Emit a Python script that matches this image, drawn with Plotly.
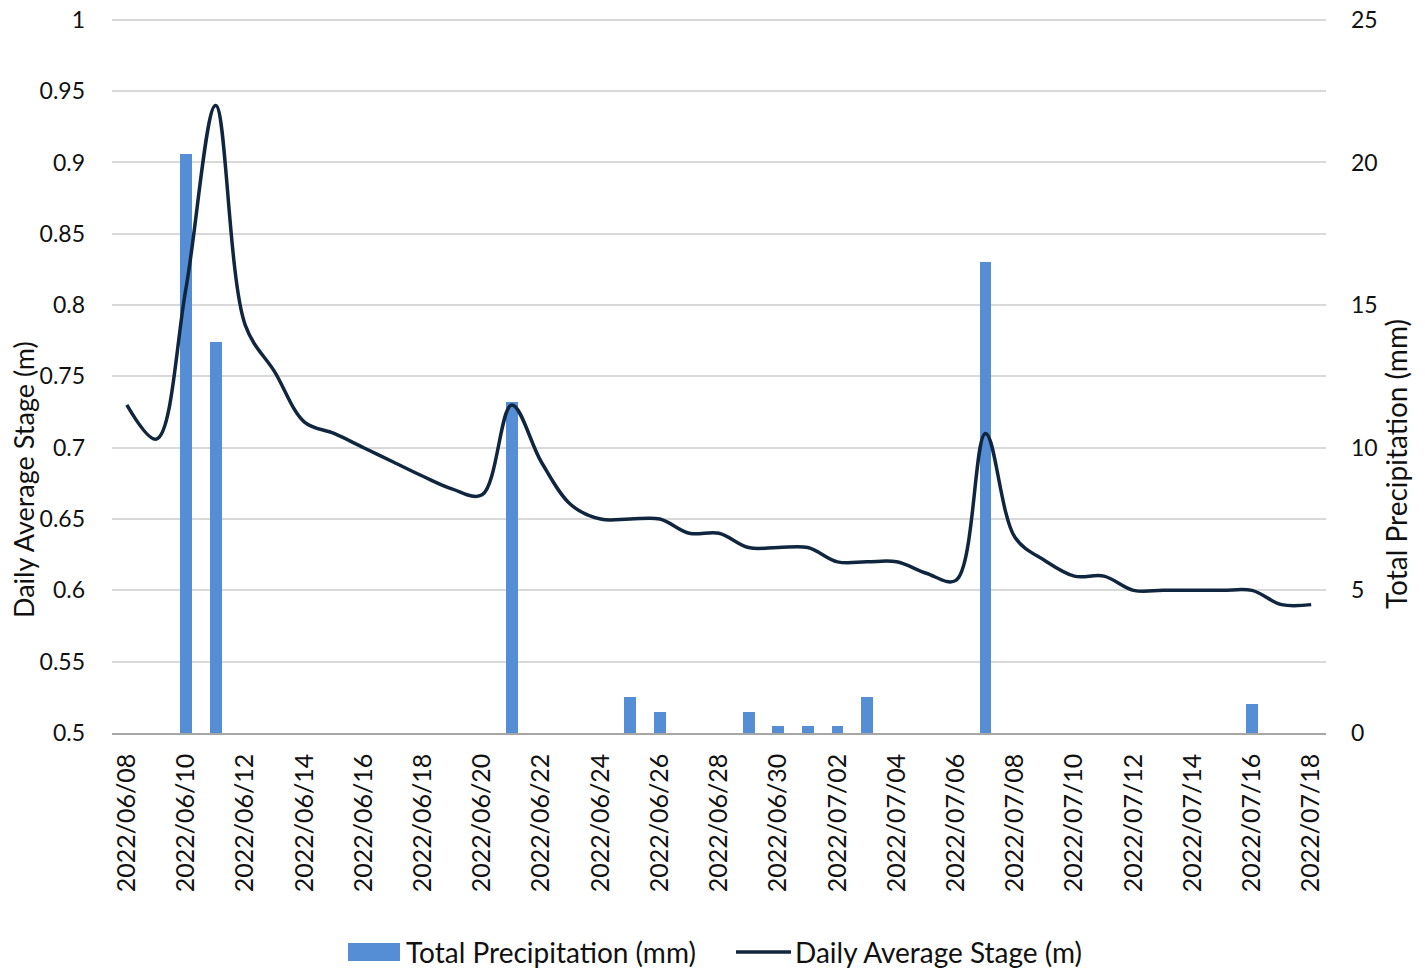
import pandas as pd
import plotly.graph_objects as go

# ---------------- data ----------------
dates = [d.strftime("%Y/%m/%d") for d in pd.date_range("2022-06-08", "2022-07-18", freq="D")]

precip_mm = [0, 0, 20.3, 13.7, 0, 0, 0, 0, 0, 0, 0, 0, 0, 11.6, 0, 0, 0, 1.25, 0.75, 0,
             0, 0.75, 0.25, 0.25, 0.25, 1.25, 0, 0, 0, 16.5, 0, 0, 0, 0, 0, 0, 0, 0, 1.0, 0, 0]

stage_m = [0.73, 0.706, 0.812, 0.94, 0.786, 0.753, 0.718, 0.71, 0.70, 0.69, 0.68, 0.671,
           0.667, 0.73, 0.69, 0.66, 0.65, 0.65, 0.65, 0.64, 0.64, 0.63, 0.63, 0.63, 0.62,
           0.62, 0.62, 0.612, 0.607, 0.71, 0.637, 0.621, 0.61, 0.61, 0.60, 0.60, 0.60, 0.60,
           0.60, 0.59, 0.59]

stage_ticks = [0.5, 0.55, 0.6, 0.65, 0.7, 0.75, 0.8, 0.85, 0.9, 0.95, 1.0]
stage_tick_labels = ["0.5", "0.55", "0.6", "0.65", "0.7", "0.75", "0.8", "0.85", "0.9", "0.95", "1"]
precip_ticks = [0, 5, 10, 15, 20, 25]
x_tick_labels = dates[::2]

series_names = ["Total Precipitation (mm)", "Daily Average Stage (m)"]

FONT = "Lato, Carlito, Calibri, sans-serif"
TXT = "#111111"
BAR_COLOR = "#558ED5"
LINE_COLOR = "#10263F"

# figure fills the whole window (body margin removed via post_script)
W, H = 1425, 968
# plot area in window pixels: x 112..1326, y (range top) 17..733
L, T = 112, 17
R = W - 1326
B = H - 733
PW, PH = W - L - R, H - T - B


def px_x(px):
    """window pixel x -> paper coordinate"""
    return (px - L) / PW


def px_y(py):
    """window pixel y -> paper coordinate"""
    return (H - B - py) / PH


fig = go.Figure()
fig.add_trace(go.Bar(
    x=dates, y=precip_mm, name=series_names[0],
    marker=dict(color=BAR_COLOR, line=dict(width=0)), width=0.4, yaxis="y",
    showlegend=False,
))
fig.add_trace(go.Scatter(
    x=dates, y=stage_m, name=series_names[1], mode="lines",
    line=dict(color=LINE_COLOR, width=3.5, shape="spline", smoothing=1.0), yaxis="y2",
    showlegend=False,
))

# custom legend (wide swatches like the original)
shapes = [
    dict(type="rect", xref="paper", yref="paper", x0=px_x(348), x1=px_x(400),
         y0=px_y(961), y1=px_y(943), fillcolor=BAR_COLOR, line=dict(width=0)),
    dict(type="line", xref="paper", yref="paper", x0=px_x(736), x1=px_x(791),
         y0=px_y(952), y1=px_y(952), line=dict(color=LINE_COLOR, width=3.5)),
]
annotations = [
    dict(text=series_names[0], xref="paper", yref="paper", x=px_x(404), y=px_y(952),
         xanchor="left", yanchor="middle", showarrow=False,
         font=dict(size=28, family=FONT, color=TXT)),
    dict(text=series_names[1], xref="paper", yref="paper", x=px_x(793), y=px_y(952),
         xanchor="left", yanchor="middle", showarrow=False,
         font=dict(size=28, family=FONT, color=TXT)),
    dict(text="Daily Average Stage (m)", textangle=-90, xref="paper", yref="paper",
         x=px_x(23), y=px_y(480), xanchor="center", yanchor="middle", showarrow=False,
         font=dict(size=27, family=FONT, color=TXT)),
    dict(text="Total Precipitation (mm)", textangle=-90, xref="paper", yref="paper",
         x=px_x(1396), y=px_y(464), xanchor="center", yanchor="middle", showarrow=False,
         font=dict(size=28, family=FONT, color=TXT)),
]

fig.update_layout(
    width=W, height=H, autosize=False,
    margin=dict(l=L, r=R, t=T, b=B, autoexpand=False),
    paper_bgcolor="white", plot_bgcolor="white",
    font=dict(family=FONT, color=TXT, size=24),
    bargap=0,
    showlegend=False,
    xaxis=dict(type="category", range=[-0.5, 40.5], tickmode="array", tickvals=x_tick_labels,
               ticktext=x_tick_labels, tickangle=-90, showgrid=False, showline=True,
               linecolor="#A6A6A6", linewidth=1.5, ticks="", ticklabelstandoff=9,
               tickfont=dict(size=25, family=FONT, color=TXT), zeroline=False,
               automargin=False, ticklabeloverflow="allow"),
    yaxis=dict(side="right", range=[0, 25.1], tickmode="array", tickvals=precip_ticks,
               showgrid=False, zeroline=False, showline=False, ticks="",
               ticklabelstandoff=24, tickfont=dict(size=23, family=FONT, color=TXT),
               automargin=False, ticklabeloverflow="allow"),
    yaxis2=dict(side="left", overlaying="y", range=[0.5, 1.002], tickmode="array",
                tickvals=stage_ticks, ticktext=stage_tick_labels, showgrid=True,
                gridcolor="#D9D9D9", gridwidth=1.5, zeroline=False, showline=False,
                ticks="", ticklabelstandoff=26, ticklabeloverflow="allow",
                tickfont=dict(size=23, family=FONT, color=TXT), automargin=False),
    shapes=shapes,
    annotations=annotations,
)

fig.write_html(
    "out.html",
    config={"displayModeBar": False},
    post_script="document.body.style.margin='0';document.body.style.overflow='hidden';",
)
